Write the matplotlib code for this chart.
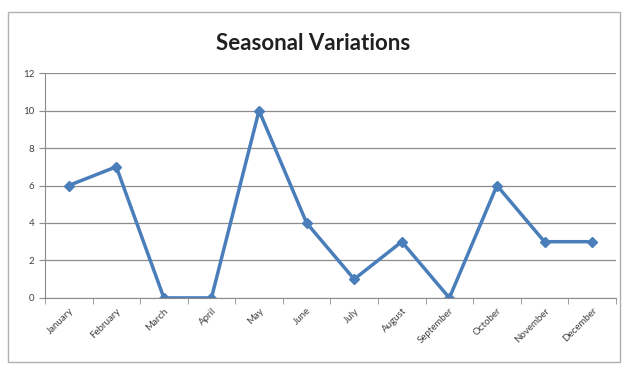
import matplotlib.pyplot as plt
from matplotlib.patches import Rectangle
import numpy as np

# Datos
meses = ['January', 'February', 'March', 'April', 'May', 'June', 'July',
         'August', 'September', 'October', 'November', 'December']
valores = [6, 7, 0, 0, 10, 4, 1, 3, 0, 6, 3, 3]

plt.rcParams['font.family'] = ['Lato', 'DejaVu Sans']

fig = plt.figure(figsize=(6.24, 3.71), dpi=100)
ax = fig.add_axes([0.072, 0.197, 0.915, 0.606])

# Borde exterior del gráfico
fig.patches.append(Rectangle((8 / 624, 1 - 362 / 371), 612 / 624, 350 / 371,
                             transform=fig.transFigure, fill=False,
                             edgecolor='#b0b0b0', linewidth=1))

x = np.arange(len(meses))
ax.plot(x, valores, color='#4a7ebb', linewidth=2.5, marker='D', markersize=5)

ax.set_xlim(-0.5, len(meses) - 0.5)
ax.set_ylim(0, 12)
ax.set_yticks(range(0, 13, 2))
ax.grid(axis='y', color='#8c8c8c', linewidth=0.9)
ax.set_axisbelow(True)

ax.set_xticks(x)
ax.set_xticklabels(meses, rotation=45, ha='right', rotation_mode='anchor',
                   fontsize=7, color='#404040')
ax.set_xticks(np.arange(-0.5, len(meses), 1), minor=True)
ax.tick_params(axis='x', which='major', length=0, pad=6)
ax.tick_params(axis='x', which='minor', length=4, color='#8c8c8c')
ax.tick_params(axis='y', length=4, color='#8c8c8c', labelsize=7,
               labelcolor='#404040')

for lado in ['top', 'right']:
    ax.spines[lado].set_visible(False)
ax.spines['left'].set_color('#8c8c8c')
ax.spines['bottom'].set_color('#8c8c8c')

fig.text(313 / 624, 1 - 44 / 371, 'Seasonal Variations', ha='center',
         va='center', fontsize=16, fontweight='bold', color='#202020')

fig.savefig('out.png', dpi=100)
